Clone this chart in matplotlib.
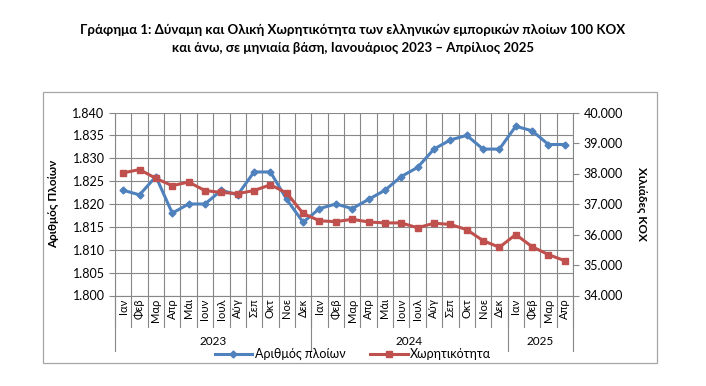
import matplotlib
matplotlib.use('Agg')
import matplotlib.pyplot as plt
from matplotlib.lines import Line2D
from matplotlib.patches import Rectangle
from matplotlib.ticker import FuncFormatter, MultipleLocator
import matplotlib.transforms as mtransforms

plt.rcParams['font.family'] = ['Lato', 'DejaVu Sans']

months = ['Ιαν', 'Φεβ', 'Μαρ', 'Απρ', 'Μάι', 'Ιουν', 'Ιουλ', 'Αύγ', 'Σεπ', 'Οκτ', 'Νοε', 'Δεκ',
          'Ιαν', 'Φεβ', 'Μαρ', 'Απρ', 'Μάι', 'Ιουν', 'Ιουλ', 'Αύγ', 'Σεπ', 'Οκτ', 'Νοε', 'Δεκ',
          'Ιαν', 'Φεβ', 'Μαρ', 'Απρ']
years = ['2023', '2024', '2025']
year_counts = [12, 12, 4]

# number of ships (left axis)
ships = [1823, 1822, 1826, 1818, 1820, 1820, 1823, 1822, 1827, 1827, 1821, 1816,
         1819, 1820, 1819, 1821, 1823, 1826, 1828, 1832, 1834, 1835, 1832, 1832,
         1837, 1836, 1833, 1833]
# tonnage, thousand GT (right axis)
tonnage = [38020, 38130, 37840, 37600, 37720, 37440, 37380, 37340, 37440, 37630, 37360, 36690,
           36450, 36420, 36500, 36410, 36380, 36380, 36220, 36370, 36330, 36160, 35800, 35580,
           36000, 35600, 35340, 35140]

blue = '#4F81BD'
red = '#C0504D'
grid_col = '#878787'


def dotted(v, pos=None):
    """Format thousands with a dot separator."""
    return f'{v:,.0f}'.replace(',', '.')


fig = plt.figure(figsize=(7.06, 3.86), dpi=100)

# outer chart border
fig.patches.append(Rectangle((43 / 706, 1 - 363 / 386), 614 / 706, 271 / 386,
                             transform=fig.transFigure, fill=False,
                             edgecolor='#A6A6A6', lw=0.9))

fig.text(0.5, 1 - 30 / 386,
         'Γράφημα 1: Δύναμη και Ολική Χωρητικότητα των ελληνικών εμπορικών πλοίων 100 ΚΟΧ',
         ha='center', va='center', fontsize=9.5, fontweight='bold')
fig.text(0.5, 1 - 48 / 386,
         'και άνω, σε μηνιαία βάση, Ιανουάριος 2023 – Απρίλιος 2025',
         ha='center', va='center', fontsize=9.5, fontweight='bold')

ax = fig.add_axes([115 / 706, 1 - 295.5 / 386, 458 / 706, 183 / 386])
x = list(range(len(months)))
ax.plot(x, ships, color=blue, lw=2.2, marker='D', ms=3.5, zorder=3)
ax.set_ylim(1800, 1840)
ax.set_xlim(-0.5, len(months) - 0.5)
ax.yaxis.set_major_locator(MultipleLocator(5))
ax.yaxis.set_major_formatter(FuncFormatter(dotted))
ax.set_xticks([])
ax.set_xticks([i - 0.5 for i in range(len(months) + 1)], minor=True)
ax.tick_params(axis='x', which='minor', length=0)
ax.grid(axis='y', which='major', color=grid_col, lw=0.8)
ax.grid(axis='x', which='minor', color=grid_col, lw=0.8)
ax.tick_params(axis='y', labelsize=9, length=4, color=grid_col, direction='out')
for s in ['top', 'right']:
    ax.spines[s].set_visible(False)
for s in ['left', 'bottom']:
    ax.spines[s].set_color(grid_col)
ax.set_ylabel('Αριθμός Πλοίων', fontsize=8.5, fontweight='bold', labelpad=10)

ax2 = ax.twinx()
ax2.plot(x, tonnage, color=red, lw=2.2, marker='s', ms=4, zorder=3)
ax2.set_ylim(34000, 40000)
ax2.yaxis.set_major_locator(MultipleLocator(1000))
ax2.yaxis.set_major_formatter(FuncFormatter(dotted))
ax2.tick_params(axis='y', labelsize=9, length=4, color=grid_col, direction='out')
for s in ['top', 'left', 'bottom']:
    ax2.spines[s].set_visible(False)
ax2.spines['right'].set_color(grid_col)
ax2.set_ylabel('Χιλιάδες ΚΟΧ', fontsize=8.5, fontweight='bold', rotation=270,
               labelpad=14, va='center')

# multi-level category axis
trans = mtransforms.blended_transform_factory(ax.transData, ax.transAxes)
px = 1 / 183
month_bottom = -31 * px
year_bottom = -55 * px
for i, m in enumerate(months):
    ax.text(i, -3 * px, m, transform=trans, rotation=90, ha='center', va='top', fontsize=8)
for i in range(len(months) + 1):
    ax.add_line(Line2D([i - 0.5, i - 0.5], [0, month_bottom], transform=trans,
                       color=grid_col, lw=0.8, clip_on=False))
start = 0
bounds = [0]
for y_lab, n in zip(years, year_counts):
    ax.text(start + n / 2 - 0.5, -46 * px, y_lab, transform=trans,
            ha='center', va='center', fontsize=8.5)
    start += n
    bounds.append(start)
for b in bounds:
    ax.add_line(Line2D([b - 0.5, b - 0.5], [0, year_bottom], transform=trans,
                       color=grid_col, lw=0.8, clip_on=False))

handles = [Line2D([], [], color=blue, lw=2.2, marker='D', ms=3.5),
           Line2D([], [], color=red, lw=2.2, marker='s', ms=4)]
fig.legend(handles, ['Αριθμός πλοίων', 'Χωρητικότητα'], loc='center',
           bbox_to_anchor=(0.5, 1 - 354 / 386), ncol=2, frameon=False,
           fontsize=9, handlelength=3, columnspacing=2, handletextpad=0.2)

fig.savefig('out.png', dpi=100)
